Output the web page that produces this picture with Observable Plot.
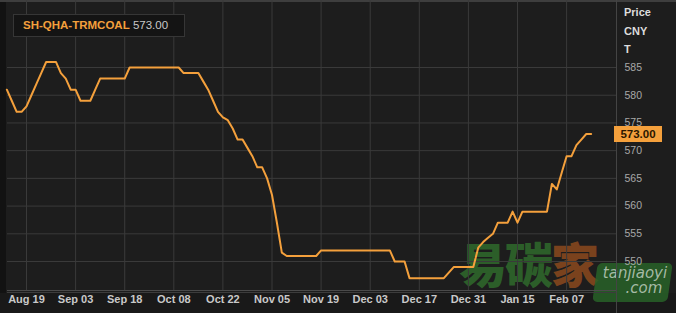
<!DOCTYPE html>
<html>
<head>
<meta charset="utf-8">
<script src="https://cdn.jsdelivr.net/npm/d3@7"></script>
<script src="https://cdn.jsdelivr.net/npm/@observablehq/plot@0.6"></script>
<style>
  html, body { margin: 0; padding: 0; background: #1d1d1d; }
  #wrap { position: relative; width: 676px; height: 313px; overflow: hidden; background: #1d1d1d; font-family: "Liberation Sans", Arial, sans-serif; }
  #wrap svg { position: absolute; left: 0; top: 0; }
  .deco { position: absolute; pointer-events: none; }
</style>
</head>
<body>
<div id="wrap"></div>
<script>
// Trading-day index (0 = Aug 19) and price, CNY/T
const dayIndex = [-4,-3,-2,-1,0,1,2,3,4,5,6,7,8,9,10,11,12,13,14,15,16,17,18,19,20,21,22,23,24,25,26,27,28,29,30,31,32,33,34,35,36,37,38,39,40,41,42,43,44,45,46,47,48,49,50,51,52,53,54,55,56,57,58,59,60,61,62,63,64,65,66,67,68,69,70,71,72,73,74,75,76,77,78,79,80,81,82,83,84,85,86,87,88,89,90,91,92,93,94,95,96,97,98,99,100,101,102,103,104,105,106,107,108,109,110,111,112,113,114,115];
const price = [581,579,577,577,578,580,582,584,586,586,586,584,583,581,581,579,579,579,581,583,583,583,583,583,583,585,585,585,585,585,585,585,585,585,585,585,584,584,584,584,582.5,581,579,577,576,575.5,574,572,572,570.5,569,567,567,565,562,557,551.6,551,551,551,551,551,551,551,552,552,552,552,552,552,552,552,552,552,552,552,552,552,552,550,550,550,547,547,547,547,547,547,547,547,548,549,549,549,549,549,552.5,553.5,554.3,555,557,557,557,559,557,559,559,559,559,559,559,564,563,566,569,569,571,572,573,573];
const tickIndex = [0,10,20,30,40,50,60,70,80,90,100,110];
const tickLabels = ["Aug 19","Sep 03","Sep 18","Oct 08","Oct 22","Nov 05","Nov 19","Dec 03","Dec 17","Dec 31","Jan 15","Feb 07"];
const yTicks = [550,555,560,565,570,575,580,585];
const seriesName = "SH-QHA-TRMCOAL";
const lastValue = 573.00;
const unitLabels = ["Price","CNY","T"];

const data = dayIndex.map((d, i) => ({i: d, v: price[i]}));
const grid = "#3a3a3a";
const orange = "#f4a03c";

const chart = Plot.plot({
  width: 676,
  height: 313,
  marginLeft: 7,
  marginRight: 60,
  marginTop: 0,
  marginBottom: 23,
  style: {background: "transparent", fontFamily: "'Liberation Sans', Arial, sans-serif"},
  x: {type: "linear", domain: [-3.87, 120.16]},
  y: {domain: [544.77, 597.09]},
  marks: [
    Plot.gridX(tickIndex, {stroke: grid, strokeOpacity: 1, strokeWidth: 1}),
    Plot.gridY(yTicks, {stroke: grid, strokeOpacity: 1, strokeWidth: 1}),
    Plot.ruleY([544.77], {stroke: "#4a4a4a", strokeWidth: 1}),
    Plot.ruleY([544.77], {stroke: "#3c3c3c", strokeWidth: 1, dy: 2}),
    Plot.axisX(tickIndex, {
      tickSize: 0, tickPadding: 5, fontSize: 11, fontWeight: "bold", fill: "#c9c9c9",
      tickFormat: (d) => tickLabels[tickIndex.indexOf(d)], label: null
    }),
    Plot.axisY(yTicks, {
      anchor: "right", tickSize: 0, tickPadding: 8, fontSize: 10.5, fill: "#a8a8a8", label: null
    }),
    Plot.line(data, {x: "i", y: "v", stroke: orange, strokeWidth: 2, curve: "linear"})
  ]
});

const wrap = document.getElementById("wrap");

// decorative frame pieces
const leftBar = document.createElement("div");
leftBar.className = "deco";
Object.assign(leftBar.style, {left: "0px", top: "0px", width: "6px", height: "313px", background: "#121212"});
wrap.appendChild(leftBar);
const topBar = document.createElement("div");
topBar.className = "deco";
Object.assign(topBar.style, {left: "0px", top: "0px", width: "676px", height: "2px", background: "#3e3e3e"});
wrap.appendChild(topBar);
const bottomBand = document.createElement("div");
bottomBand.className = "deco";
Object.assign(bottomBand.style, {left: "0px", top: "293px", width: "676px", height: "20px", background: "#191919"});
wrap.appendChild(bottomBand);

// watermark (drawn beneath the chart texts)
const wm = document.createElement("div");
wm.className = "deco";
Object.assign(wm.style, {left: "459px", top: "233px", fontFamily: "'Noto Sans CJK SC', sans-serif", fontWeight: "900", fontSize: "48px", lineHeight: "58px", whiteSpace: "nowrap", letterSpacing: "-2px"});
wm.innerHTML = '<span style="color:rgba(48,110,44,0.82)">易碳</span><span style="color:rgba(140,74,30,0.85)">家</span>';
wrap.appendChild(wm);
const wmBox = document.createElement("div");
wmBox.className = "deco";
Object.assign(wmBox.style, {left: "595px", top: "263px", width: "75px", height: "39px", background: "rgba(40,98,40,0.85)", borderRadius: "5px", transform: "skewX(-8deg)"});
wrap.appendChild(wmBox);
const wmText = document.createElement("div");
wmText.className = "deco";
Object.assign(wmText.style, {left: "601px", top: "266px", width: "68px", fontFamily: "'DejaVu Sans', sans-serif", fontStyle: "italic", color: "rgba(190,205,190,0.85)", fontSize: "15px", lineHeight: "15px", textAlign: "center"});
wmText.innerHTML = 'tanjiaoyi<br><span style="padding-left:18px">.com</span>';
wrap.appendChild(wmText);

wrap.appendChild(chart);

const sep = document.createElement("div");
sep.className = "deco";
Object.assign(sep.style, {left: "616px", top: "0px", width: "1px", height: "313px", background: "#444"});
wrap.appendChild(sep);

// title box
const title = document.createElement("div");
title.className = "deco";
Object.assign(title.style, {left: "13px", top: "14px", width: "172px", height: "23px", background: "#141414", border: "1px solid #363636", boxSizing: "border-box", fontSize: "11.5px", lineHeight: "21px", paddingLeft: "9px", whiteSpace: "nowrap"});
title.innerHTML = `<span style="color:${orange};font-weight:bold">${seriesName}</span> <span style="color:#c8c8c8">${lastValue.toFixed(2)}</span>`;
wrap.appendChild(title);

// unit labels at top right
unitLabels.forEach((t, k) => {
  const el = document.createElement("div");
  el.className = "deco";
  Object.assign(el.style, {left: "624px", top: (5 + k * 18.5) + "px", color: "#dcdcdc", fontWeight: "bold", fontSize: "11px", lineHeight: "14px"});
  el.textContent = t;
  wrap.appendChild(el);
});

// last value tag, positioned via the chart's y scale
const yScale = chart.scale("y");
const ty = yScale.apply(lastValue);
const tag = document.createElement("div");
tag.className = "deco";
Object.assign(tag.style, {left: "614px", top: (ty - 8) + "px", width: "48px", height: "16px", background: orange, color: "#2a1600", fontWeight: "bold", fontSize: "11.5px", lineHeight: "16px", textAlign: "center"});
tag.textContent = lastValue.toFixed(2);
wrap.appendChild(tag);
</script>
</body>
</html>
